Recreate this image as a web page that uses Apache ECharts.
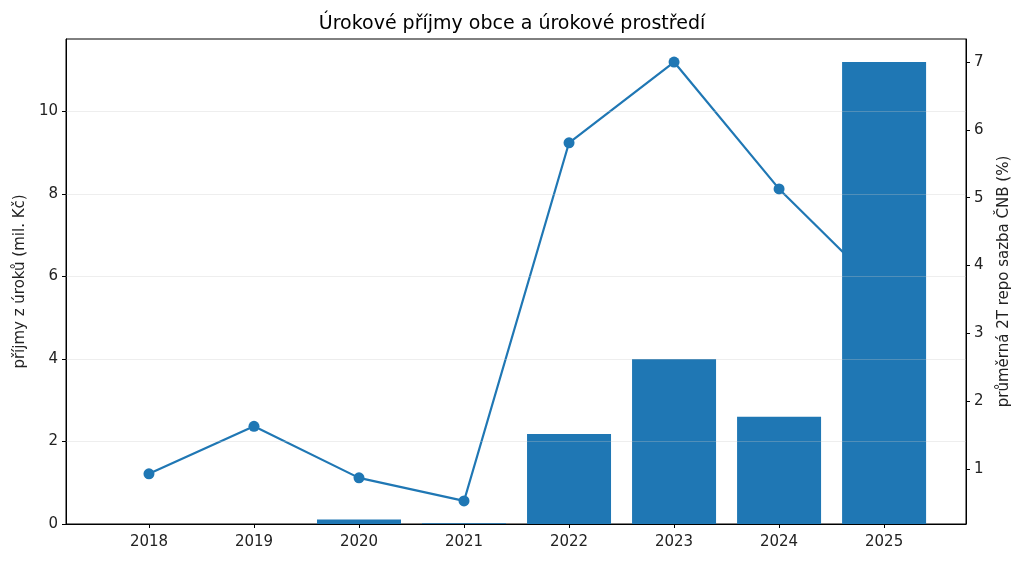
<!DOCTYPE html>
<html lang="cs">
<head>
    <meta charset="UTF-8">
    <title>Úrokové příjmy obce a úrokové prostředí</title>
    <script src="https://cdn.jsdelivr.net/npm/echarts@6/dist/echarts.min.js"></script>
    <style>
        body { margin: 0; padding: 0; background: #fff; }
        #chart { width: 1024px; height: 562px; }
    </style>
</head>
<body>
    <div id="chart"></div>
    <script>
        // data
        const years = ['2018', '2019', '2020', '2021', '2022', '2023', '2024', '2025'];
        const incomeMil = [0, 0, 0.11, 0.02, 2.18, 4.0, 2.6, 11.2];
        const repoRate = [0.93, 1.63, 0.87, 0.53, 5.81, 7.0, 5.13, 3.6];
        const leftTicks = [0, 2, 4, 6, 8, 10];
        const rightTicks = [1, 2, 3, 4, 5, 6, 7];

        const idx = years.map((y, i) => i);
        const barData = incomeMil.map((v, i) => [i, v]);
        const lineData = repoRate.map((v, i) => [i, v]);

        const font = 'DejaVu Sans';
        const txt = '#222';

        const chart = echarts.init(document.getElementById('chart'));
        chart.setOption({
            backgroundColor: '#fff',
            animation: false,
            title: {
                text: 'Úrokové příjmy obce a úrokové prostředí',
                left: 'center',
                top: 10,
                textStyle: { fontFamily: font, fontSize: 19, fontWeight: 'normal', color: '#000' }
            },
            grid: {
                left: 66, right: 58, top: 39, bottom: 38,
                show: true, borderColor: '#000', borderWidth: 1, backgroundColor: 'transparent'
            },
            xAxis: {
                type: 'value',
                min: -0.79,
                max: 7.78,
                axisLine: { show: true, onZero: false, lineStyle: { color: '#000' } },
                axisTick: { show: true, customValues: idx, length: 4, lineStyle: { color: '#000' } },
                axisLabel: {
                    customValues: idx,
                    formatter: v => years[Math.round(v)],
                    fontFamily: font, fontSize: 15, color: txt, margin: 11
                },
                splitLine: { show: false }
            },
            yAxis: [
                {
                    type: 'value',
                    min: 0,
                    max: 11.76,
                    name: 'příjmy z úroků (mil. Kč)',
                    nameLocation: 'middle',
                    nameGap: 38,
                    nameRotate: 90,
                    nameTextStyle: { fontFamily: font, fontSize: 15, color: txt },
                    axisLine: { show: true, onZero: false, lineStyle: { color: '#000' } },
                    axisTick: { show: true, customValues: leftTicks, length: 4, lineStyle: { color: '#000' } },
                    axisLabel: { customValues: leftTicks, fontFamily: font, fontSize: 15, color: txt, margin: 8 },
                    splitLine: { show: false }
                },
                {
                    type: 'value',
                    min: 0.19,
                    max: 7.34,
                    position: 'right',
                    name: 'průměrná 2T repo sazba ČNB (%)',
                    nameLocation: 'middle',
                    nameGap: 31,
                    nameRotate: 90,
                    nameTextStyle: { fontFamily: font, fontSize: 15, color: txt },
                    axisLine: { show: true, onZero: false, lineStyle: { color: '#000' } },
                    axisTick: { show: true, customValues: rightTicks, length: 4, lineStyle: { color: '#000' } },
                    axisLabel: { customValues: rightTicks, fontFamily: font, fontSize: 15, color: txt, margin: 8 },
                    splitLine: { show: false }
                }
            ],
            series: [
                {
                    // light grid lines of the left axis, drawn over the bars
                    type: 'line',
                    data: [],
                    silent: true,
                    z: 5,
                    markLine: {
                        silent: true,
                        symbol: 'none',
                        label: { show: false },
                        lineStyle: { color: 'rgba(200,200,200,0.3)', type: 'solid', width: 1 },
                        data: leftTicks.filter(t => t > 0).map(t => ({ yAxis: t }))
                    }
                },
                {
                    name: 'repo sazba',
                    type: 'line',
                    yAxisIndex: 1,
                    data: lineData,
                    z: 2,
                    symbol: 'circle',
                    symbolSize: 11,
                    itemStyle: { color: '#1f77b4' },
                    lineStyle: { color: '#1f77b4', width: 2.2 }
                },
                {
                    name: 'příjmy z úroků',
                    type: 'bar',
                    yAxisIndex: 0,
                    data: barData,
                    barWidth: 84,
                    z: 3,
                    itemStyle: { color: '#1f77b4' }
                }
            ]
        });
    </script>
</body>
</html>
